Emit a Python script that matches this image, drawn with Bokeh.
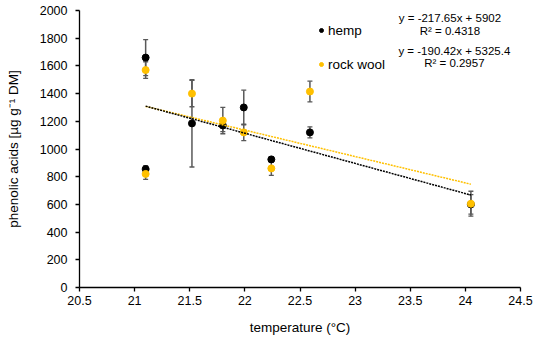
from bokeh.plotting import figure
from bokeh.models import (ColumnDataSource, Whisker, TeeHead, Legend, LegendItem,
                          FixedTicker, NumeralTickFormatter, Range1d, Label)
from bokeh.embed import file_html
from bokeh.resources import INLINE

# ---- data ----
temperature = [21.1, 21.1, 21.52, 21.8, 21.99, 22.24, 22.59, 24.05]
hemp = [1660, 855, 1185, 1170, 1300, 925, 1120, 600]
hemp_err = [130, 25, 315, 45, 125, 20, 40, 70]
rock_wool = [1570, 820, 1400, 1205, 1120, 860, 1415, 605]
rock_wool_err = [60, 40, 95, 95, 60, 50, 75, 90]

hemp_fit = (-217.65, 5902)
rock_wool_fit = (-190.42, 5325.4)
hemp_eq = ["y = -217.65x + 5902", "R\u00b2 = 0.4318"]
rock_wool_eq = ["y = -190.42x + 5325.4", "R\u00b2 = 0.2957"]

x_ticks = [20.5, 21, 21.5, 22, 22.5, 23, 23.5, 24, 24.5]
y_ticks = [0, 200, 400, 600, 800, 1000, 1200, 1400, 1600, 1800, 2000]

HEMP_C = "#000000"
RW_C = "#FFC000"
ERR_C = "#595959"
FONT = "Liberation Sans"

p = figure(width=534, height=341, output_backend="svg", toolbar_location=None,
           x_range=Range1d(20.5, 24.5), y_range=Range1d(0, 2000),
           min_border_left=79, min_border_right=14, min_border_top=10, min_border_bottom=54)
p.outline_line_color = None
p.grid.visible = False
p.background_fill_color = "white"
p.border_fill_color = "white"

for ax, ticks in ((p.xaxis[0], x_ticks), (p.yaxis[0], y_ticks)):
    ax.ticker = FixedTicker(ticks=ticks)
    ax.minor_tick_line_color = None
    ax.major_tick_in = 0
    ax.major_tick_out = 4
    ax.axis_line_color = "black"
    ax.axis_line_width = 1.3
    ax.major_tick_line_color = "black"
    ax.major_tick_line_width = 1.3
    ax.major_label_text_font = FONT
    ax.major_label_text_font_size = "12.5px"
    ax.major_label_text_color = "black"
    ax.axis_label_text_font = FONT
    ax.axis_label_text_font_size = "13.5px"
    ax.axis_label_text_font_style = "normal"
    ax.axis_label_text_color = "black"

p.xaxis[0].formatter = NumeralTickFormatter(format="0.[0]")
p.xaxis[0].major_label_standoff = 4
p.xaxis[0].axis_label = "temperature (\u00b0C)"
p.xaxis[0].axis_label_standoff = 12
p.yaxis[0].major_label_standoff = 8
p.yaxis[0].axis_label = "phenolic acids [\u00b5g g\u207b\u00b9 DM]"
p.yaxis[0].axis_label_standoff = 16

# error bars
def add_err(ys, errs):
    src = ColumnDataSource(dict(x=temperature,
                                lo=[y - e for y, e in zip(ys, errs)],
                                hi=[y + e for y, e in zip(ys, errs)]))
    w = Whisker(base="x", lower="lo", upper="hi", source=src,
                line_color=ERR_C, line_width=1.5,
                upper_head=TeeHead(size=5, line_color=ERR_C, line_width=1.3),
                lower_head=TeeHead(size=5, line_color=ERR_C, line_width=1.3))
    p.add_layout(w)

add_err(hemp, hemp_err)
add_err(rock_wool, rock_wool_err)

r_h = p.scatter(temperature, hemp, size=7, color=HEMP_C)
r_r = p.scatter(temperature, rock_wool, size=7, color=RW_C)

# trend lines (from the printed regression equations)
def fit_line(fit, color):
    xs = [min(temperature), max(temperature)]
    ys = [fit[0] * x + fit[1] for x in xs]
    p.line(xs, ys, line_color=color, line_width=1.5, line_dash="2 1")

fit_line(rock_wool_fit, RW_C)
fit_line(hemp_fit, HEMP_C)

legend = Legend(items=[LegendItem(label="hemp", renderers=[r_h]),
                       LegendItem(label="rock wool", renderers=[r_r])],
                location=(237, 213), orientation="vertical",
                padding=0, margin=0, spacing=14,
                glyph_width=10, glyph_height=20, label_height=20,
                label_standoff=2, border_line_color=None,
                background_fill_alpha=0,
                label_text_font=FONT, label_text_font_size="13.5px",
                label_text_color="black")
p.add_layout(legend, "center")

for lines, xc, ys in ((hemp_eq, 23.86, (1945, 1855)), (rock_wool_eq, 23.90, (1709, 1619))):
    for t, yy in zip(lines, ys):
        p.add_layout(Label(x=xc, y=yy, text=t, text_align="center", text_baseline="middle",
                           text_font=FONT, text_font_size="11.5px", text_color="black"))

open("out.html", "w").write(file_html(p, INLINE))
